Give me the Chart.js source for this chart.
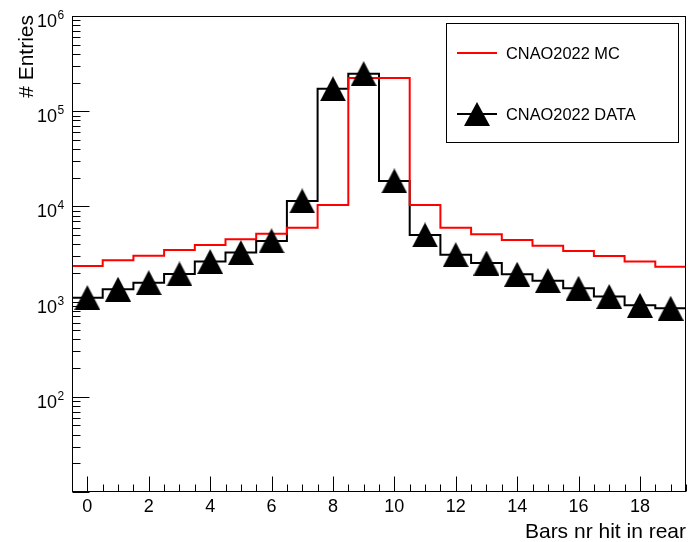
<!DOCTYPE html>
<html>
<head>
<meta charset="utf-8">
<script src="https://cdn.jsdelivr.net/npm/chart.js@4"></script>
<style>
html,body{margin:0;padding:0;background:#fff;}
#wrap{width:689px;height:542px;}
</style>
</head>
<body>
<div id="wrap"><canvas id="c" width="689" height="542"></canvas></div>
<script>
const bins = [0,1,2,3,4,5,6,7,8,9,10,11,12,13,14,15,16,17,18,19];
const mcValues = [2370,2720,3030,3480,3930,4510,5170,5970,10350,223000,223000,10350,5970,5090,4440,3860,3410,3010,2630,2330];
const dataValues = [1100,1350,1580,1950,2630,3270,4340,11400,172000,248000,18500,5010,3110,2540,1940,1660,1380,1130,914,851];
const xTickLabels = ['0','2','4','6','8','10','12','14','16','18'];
const yTickExponents = [2,3,4,5,6];
const seriesNames = ['CNAO2022 MC','CNAO2022 DATA'];
const xTitle = 'Bars nr hit in rear';
const yTitle = '# Entries';

const FONT = '"Liberation Sans", Arial, Helvetica, sans-serif';

function stepPoints(vals){
  const pts = [];
  bins.forEach((b,i)=>{ pts.push({x:b-0.5,y:vals[i]}); pts.push({x:b+0.5,y:vals[i]}); });
  return pts;
}
function triCanvas(w,h){
  const c = document.createElement('canvas');
  c.width = w; c.height = h;
  const g = c.getContext('2d');
  g.fillStyle = '#000';
  g.beginPath(); g.moveTo(w/2,0); g.lineTo(w,h); g.lineTo(0,h); g.closePath(); g.fill();
  return c;
}
const tri = triCanvas(26,25);

const rootAxes = {
  id:'rootAxes',
  afterDraw(chart){
    const ctx = chart.ctx, a = chart.chartArea;
    const xs = chart.scales.x, ys = chart.scales.y;
    ctx.save();
    ctx.strokeStyle = '#000'; ctx.lineWidth = 1;
    // frame
    ctx.strokeRect(Math.round(a.left)+0.5, Math.round(a.top)+0.5, Math.round(a.right-a.left)-1, Math.round(a.bottom-a.top)-1);
    const L = Math.round(a.left)+0.5, B = Math.round(a.bottom)-0.5;
    // y ticks (log)
    ctx.beginPath();
    for(let e=1;e<=6;e++){
      for(let m=1;m<=9;m++){
        const v = m*Math.pow(10,e);
        if(v>1e6) break;
        const py = Math.round(ys.getPixelForValue(v))+0.5;
        const len = m===1?17:8;
        ctx.moveTo(L,py); ctx.lineTo(L+len,py);
      }
    }
    ctx.stroke();
    // x ticks
    ctx.beginPath();
    for(let t=-0.5;t<=19.5;t+=0.5){
      const px = Math.round(xs.getPixelForValue(t))+0.5;
      const major = (Math.abs(t%2)<1e-9);
      const len = major?15:7;
      ctx.moveTo(px,B); ctx.lineTo(px,B-len);
    }
    ctx.stroke();
    // labels
    ctx.fillStyle = '#000';
    ctx.font = '18px '+FONT;
    ctx.textAlign = 'center'; ctx.textBaseline = 'alphabetic';
    xTickLabels.forEach(l=>{
      const px = xs.getPixelForValue(parseFloat(l));
      ctx.fillText(l, px, 512);
    });
    yTickExponents.forEach(e=>{
      const py = ys.getPixelForValue(Math.pow(10,e));
      ctx.font = '18px '+FONT; ctx.textAlign='right';
      ctx.fillText('10', 57, py+11);
      ctx.font = '12px '+FONT; ctx.textAlign='left';
      ctx.fillText(String(e), 57.5, py+3);
    });
    // titles
    ctx.font = '21px '+FONT;
    ctx.textAlign='right';
    ctx.fillText(xTitle, 686, 538);
    ctx.save();
    ctx.translate(33,15); ctx.rotate(-Math.PI/2);
    ctx.textAlign='right';
    ctx.fillText(yTitle, 0, 0);
    ctx.restore();
    // legend
    ctx.lineWidth = 1;
    ctx.strokeRect(446.5, 23.5, 232, 119);
    ctx.lineWidth = 2;
    ctx.strokeStyle = '#ff0000';
    ctx.beginPath(); ctx.moveTo(457,53); ctx.lineTo(497,53); ctx.stroke();
    ctx.strokeStyle = '#000';
    ctx.beginPath(); ctx.moveTo(457,114); ctx.lineTo(497,114); ctx.stroke();
    ctx.drawImage(triCanvas(26,24), 477-13, 114-12);
    ctx.font = '16.4px '+FONT; ctx.textAlign='left';
    ctx.fillText(seriesNames[0], 506, 59);
    ctx.fillText(seriesNames[1], 506, 120);
    ctx.restore();
  }
};

new Chart(document.getElementById('c'), {
  type:'line',
  data:{
    datasets:[
      {label:seriesNames[1]+' markers', data:bins.map((b,i)=>({x:b,y:dataValues[i]})), showLine:false,
       pointStyle:tri, pointRadius:12, pointHoverRadius:12, borderColor:'#000', backgroundColor:'#000'},
      {label:seriesNames[0], data:stepPoints(mcValues), borderColor:'#ff0000', borderWidth:2, pointRadius:0, tension:0, fill:false},
      {label:seriesNames[1], data:stepPoints(dataValues), borderColor:'#000000', borderWidth:2, pointRadius:0, tension:0, fill:false}
    ]
  },
  options:{
    responsive:false, animation:false,
    layout:{autoPadding:false, padding:{left:72, right:3, top:16, bottom:50}},
    plugins:{legend:{display:false}, tooltip:{enabled:false}},
    scales:{
      x:{type:'linear', min:-0.5, max:19.5, display:false},
      y:{type:'logarithmic', min:10, max:1e6, display:false}
    }
  },
  plugins:[rootAxes]
});
</script>
</body>
</html>
